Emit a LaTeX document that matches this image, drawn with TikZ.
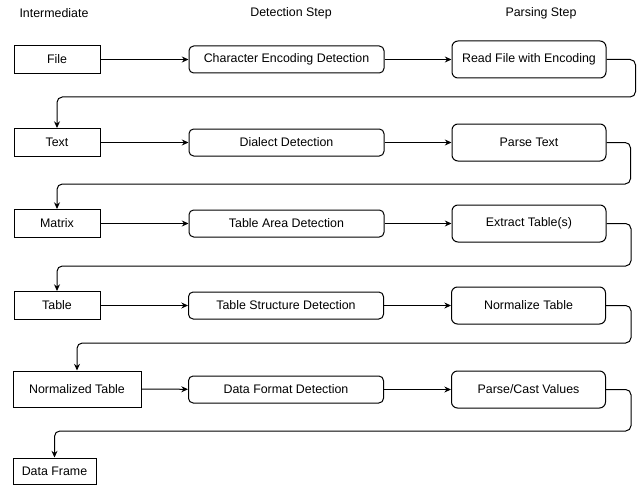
\documentclass[tikz,border=0pt]{standalone}
\usepackage{fontspec}
\setmainfont{Liberation Sans}
\usetikzlibrary{arrows.meta,positioning}

\begin{document}
\begin{tikzpicture}[x=0.75pt,y=-0.75pt,
  font=\fontsize{9.3}{11}\selectfont, line width=0.75pt,
  inter/.style={draw, inner sep=0pt, minimum width=64.5pt, minimum height=21pt},
  detect/.style={draw, rounded corners=3.5pt, inner sep=0pt, minimum width=146.25pt, minimum height=20.25pt},
  parse/.style={draw, rounded corners=4.5pt, inner sep=0pt, minimum width=115.5pt, minimum height=27.75pt},
  flow/.style={-{Stealth[length=5pt,width=4.5pt]}},
  back/.style={-{Stealth[length=5pt,width=4.5pt]}, rounded corners=4pt}]
\useasboundingbox (0,0) rectangle (639,485);

% column titles
\node (hinter) at (54,13) {Intermediate};
\node (hdetect) at (291,13) {Detection Step};
\node (hparse) at (541,13) {Parsing Step};

% row 1
\node[inter] (file) at (57,59.5) {File};
\node[detect] (ced) at (286.5,59.5) {Character Encoding Detection};
\node[parse] (readfile) at (529,59.5) {Read File with Encoding};
% row 2
\node[inter] (text) at (57,142.5) {Text};
\node[detect] (dialect) at (286.5,142.5) {Dialect Detection};
\node[parse] (parsetext) at (529,142.5) {Parse Text};
% row 3
\node[inter] (matrix) at (57,223.5) {Matrix};
\node[detect] (area) at (286.5,223.5) {Table Area Detection};
\node[parse] (extract) at (529,223.5) {Extract Table(s)};
% row 4
\node[inter] (table) at (57,305.5) {Table};
\node[detect] (structure) at (286,305.5) {Table Structure Detection};
\node[parse] (normalize) at (528.5,305.5) {Normalize Table};
% row 5
\node[inter, minimum width=96pt, minimum height=27pt] (normtable) at (77,389) {Normalized Table};
\node[detect] (format) at (286,389.5) {Data Format Detection};
\node[parse] (castvalues) at (528.5,389.5) {Parse/Cast Values};
% row 6
\node[inter, minimum width=62.25pt, minimum height=19.5pt] (frame) at (54.5,471) {Data Frame};

% steps
\draw[flow] (file) -- (ced);
\draw[flow] (ced) -- (readfile);
\draw[flow] (text) -- (dialect);
\draw[flow] (dialect) -- (parsetext);
\draw[flow] (matrix) -- (area);
\draw[flow] (area) -- (extract);
\draw[flow] (table) -- (structure);
\draw[flow] (structure) -- (normalize);
\draw[flow] (normtable) -- (format);
\draw[flow] (format) -- (castvalues);

% back to the next intermediate
\draw[back] (readfile.east) -- ++(29,0) -- ++(0,37.5) -| (text.north);
\draw[back] (parsetext.east) -- ++(24,0) -- ++(0,41.5) -| (matrix.north);
\draw[back] (extract.east) -- ++(24.5,0) -- ++(0,42.5) -| (table.north);
\draw[back] (normalize.east) -- ++(25,0) -- ++(0,37.5) -| (normtable.north);
\draw[back] (castvalues.east) -- ++(25,0) -- ++(0,41.5) -| (frame.north);
\end{tikzpicture}
\end{document}
